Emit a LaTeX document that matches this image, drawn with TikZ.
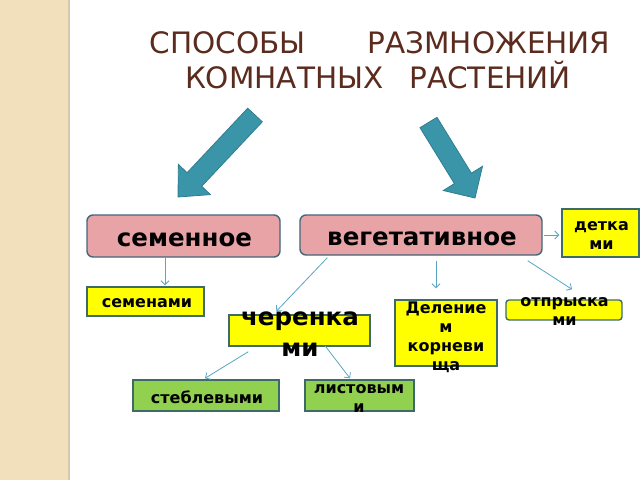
\documentclass[tikz,border=0pt]{standalone}
\usepackage{fontspec}
\setmainfont{DejaVu Sans}
\usetikzlibrary{arrows.meta,calc}
\definecolor{stripcol}{HTML}{F2E0BD}
\definecolor{stripline}{HTML}{D6C8AC}
\definecolor{titlecol}{HTML}{5B2C1E}
\definecolor{pinkfill}{HTML}{E8A3A6}
\definecolor{pinkline}{HTML}{42667A}
\definecolor{boxline}{HTML}{3C6B68}
\definecolor{yelfill}{HTML}{FFFF00}
\definecolor{grnfill}{HTML}{92D050}
\definecolor{conncol}{HTML}{5AA6C2}
\definecolor{arrfill}{HTML}{3A95A9}
\definecolor{arrline}{HTML}{2F7D8F}
\begin{document}
\begin{tikzpicture}[x=1pt,y=-1pt,
  pinkbox/.style={draw=pinkline, fill=pinkfill, line width=1.4pt, rounded corners=6pt, inner sep=0pt},
  yelbox/.style={draw=boxline, fill=yelfill, line width=1.4pt, inner sep=0pt},
  yelround/.style={yelbox, rounded corners=3pt},
  grnbox/.style={draw=boxline, fill=grnfill, line width=1.4pt, inner sep=0pt},
  bigtxt/.style={font=\bfseries\fontsize{24.5}{31}\selectfont, inner sep=0pt, align=center},
  smalltxt/.style={font=\bfseries\fontsize{16}{19}\selectfont, inner sep=0pt, align=center},
  titletxt/.style={font=\fontsize{29.5}{35}\selectfont, text=titlecol, inner sep=0pt, anchor=base},
  conn/.style={draw=conncol, line width=0.8pt, -{Straight Barb[length=4pt,width=8pt]}},
  blockarrow/.style={fill=arrfill, draw=arrline, line width=0.8pt, line join=miter}]
\useasboundingbox (0,0) rectangle (640,480);
\fill[white] (0,0) rectangle (640,480);
% left strip
\fill[stripcol] (0,0) rectangle (68,480);
\draw[stripline, line width=1.6pt] (69,0) -- (69,480);
% title
\node[titletxt] (title1) at (380,53.5) {СПОСОБЫ\hspace{62pt}РАЗМНОЖЕНИЯ};
\node[titletxt] (title2) at (378,88.5) {КОМНАТНЫХ\hspace{26pt}РАСТЕНИЙ};
% block arrows
\path[blockarrow] (262.3,121.8) -- (201.7,186.3) -- (210.4,194.6) -- (178,197)
  -- (178.4,164.4) -- (187.1,172.7) -- (247.7,108.2) -- cycle;
\path[blockarrow] (437,117.3) -- (471.4,173.2) -- (482.5,166.3) -- (475,198)
  -- (443.3,190.5) -- (454.4,183.6) -- (420,127.7) -- cycle;
% boxes
\node[pinkbox, minimum width=193pt, minimum height=42pt] (semen) at (183.5,236) {};
\node[pinkbox, minimum width=242pt, minimum height=40pt] (veg) at (421,235) {};
\node[yelbox, minimum width=77pt, minimum height=48pt] (detka) at (600.5,233) {};
\node[yelbox, minimum width=117pt, minimum height=29pt] (semenami) at (145.5,301.5) {};
\node[yelbox, minimum width=141pt, minimum height=31pt] (cher) at (299.5,330.5) {};
\node[yelbox, minimum width=102pt, minimum height=66pt] (delen) at (446,333) {};
\node[yelround, minimum width=116pt, minimum height=20pt] (otpr) at (564,310) {};
\node[grnbox, minimum width=146pt, minimum height=31pt] (stebl) at (206,395.5) {};
\node[grnbox, minimum width=109pt, minimum height=31pt] (list) at (359.5,395.5) {};
% connectors
\draw[conn] ([xshift=-18.5pt]semen.south) -- ([xshift=19.5pt,yshift=1pt]semenami.north);
\draw[conn] ([xshift=28pt,yshift=-2pt]veg.south west) -- ([xshift=48pt,yshift=3pt]cher.north west);
\draw[conn] ([xshift=15pt,yshift=-5pt]veg.south) -- ([xshift=-10pt,yshift=11pt]delen.north);
\draw[conn] ([xshift=-15pt,yshift=-5pt]veg.south east) -- ([xshift=8pt,yshift=10pt]otpr.north);
\draw[conn] ([xshift=1pt]veg.east) -- ([xshift=-2pt]veg.east -| detka.west);
\draw[conn] ([xshift=20pt,yshift=-5pt]cher.south west) -- ([xshift=-1pt,yshift=1pt]stebl.north);
\draw[conn] ([xshift=25.5pt,yshift=1pt]cher.south) -- ([xshift=-9.5pt,yshift=1pt]list.north);
% texts
\node[bigtxt] (semenT) at (184.5,239.5) {семенное};
\node[bigtxt] (vegT) at (422,238.5) {вегетативное};
\node[smalltxt] (detkaT) at (601.5,236) {детка\\ми};
\node[smalltxt] (semenamiT) at (147,303.5) {семенами};
\node[bigtxt] (cherT) at (300,334) {черенка\\ми};
\node[smalltxt] (delenT) at (446,337) {Деление\\м\\корневи\\ща};
\node[smalltxt] (otprT) at (564.5,312) {отпрыска\\ми};
\node[smalltxt] (steblT) at (207,397) {стеблевыми};
\node[smalltxt] (listT) at (359,399) {листовым\\и};
\end{tikzpicture}
\end{document}
